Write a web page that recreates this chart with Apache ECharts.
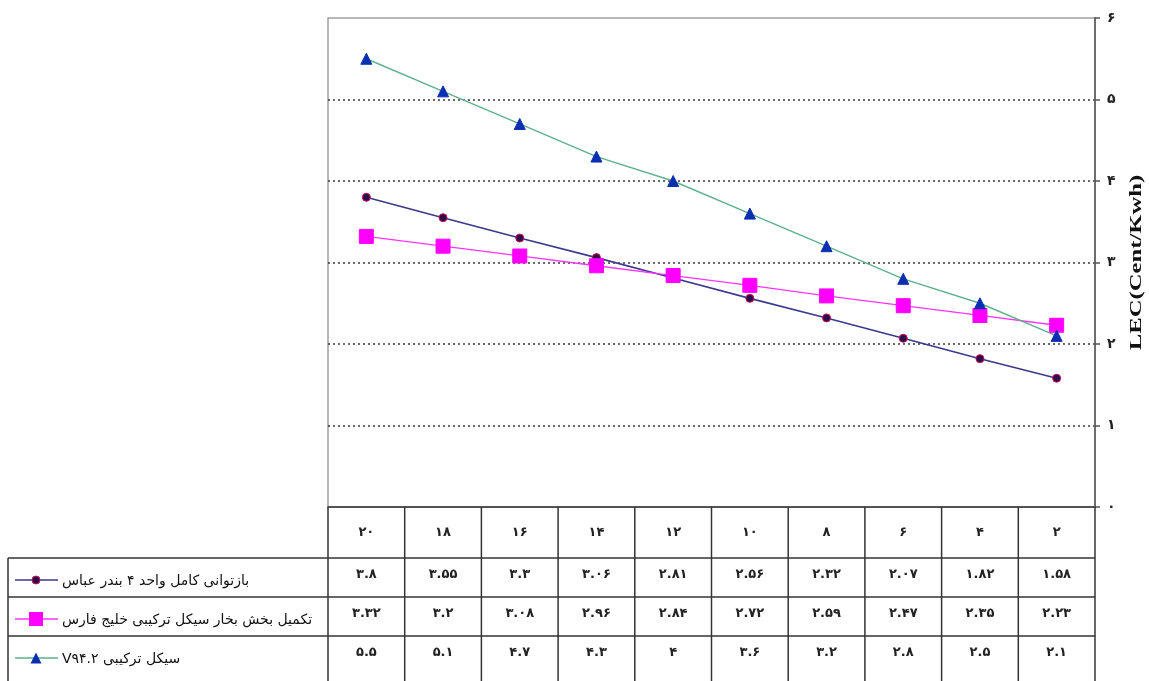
<!DOCTYPE html>
<html>
<head>
<meta charset="utf-8">
<title>LEC</title>
<script src="https://cdn.jsdelivr.net/npm/echarts@6/dist/echarts.min.js"></script>
<style>
  html, body { margin: 0; padding: 0; background: #ffffff; }
  #chart { width: 1149px; height: 681px; }
</style>
</head>
<body>
<div id="chart"></div>
<script>
// Plant age categories (years), right-to-left order as printed
const categories = [20, 18, 16, 14, 12, 10, 8, 6, 4, 2];

// Series names
const nameBandarAbbas = 'بازتوانی کامل واحد ۴ بندر عباس';
const nameKhalijFars = 'تکمیل بخش بخار سیکل ترکیبی خلیج فارس';
const nameV942 = 'سیکل ترکیبی V۹۴.۲';

// LEC values (Cent/Kwh)
const bandarAbbas = [3.8, 3.55, 3.3, 3.06, 2.81, 2.56, 2.32, 2.07, 1.82, 1.58];
const khalijFars = [3.32, 3.2, 3.08, 2.96, 2.84, 2.72, 2.59, 2.47, 2.35, 2.23];
const v942 = [5.5, 5.1, 4.7, 4.3, 4, 3.6, 3.2, 2.8, 2.5, 2.1];

// Value axis ticks
const yMin = 0, yMax = 6, yStep = 1;
const yTitle = 'LEC(Cent/Kwh)';

const FA_DIGITS = '۰۱۲۳۴۵۶۷۸۹';
const toFa = v => String(v).replace(/\d/g, d => FA_DIGITS[+d]);
// right-to-left embedding so mixed Latin/Persian text keeps RTL order
const rtl = s => '\u202B' + s + '\u202C';

const FA_FONT = '"DejaVu Sans", "Noto Sans", sans-serif';
const TABLE = '#333333';

const seriesDefs = [
  { name: nameBandarAbbas, data: bandarAbbas, symbol: 'circle', size: 8,
    line: '#3a3a8c', fill: '#2b0b4f', border: '#d0104a', lineWidth: 1.6 },
  { name: nameKhalijFars, data: khalijFars, symbol: 'rect', size: 14,
    line: '#ff33ff', fill: '#ff00ff', border: '#ff00ff', lineWidth: 1.3 },
  { name: nameV942, data: v942, symbol: 'triangle', size: 11,
    line: '#5fb08c', fill: '#0a2fb0', border: '#0a2fb0', lineWidth: 1.4 }
];

const chart = echarts.init(document.getElementById('chart'), null, { renderer: 'canvas' });

chart.setOption({
  animation: false,
  backgroundColor: '#ffffff',
  grid: {
    left: 328, right: 54, top: 18, bottom: 174,
    containLabel: false,
    outerBoundsMode: 'none',
    show: true, borderColor: '#a0a0a0', borderWidth: 1.5, backgroundColor: 'transparent'
  },
  xAxis: {
    type: 'category',
    data: categories.map(toFa),
    boundaryGap: true,
    axisLine: { show: true, lineStyle: { color: TABLE, width: 1.5 } },
    axisTick: { show: false },
    axisLabel: { margin: 19, fontSize: 13, color: '#222', fontFamily: FA_FONT, fontWeight: 'bold' },
    splitLine: { show: false }
  },
  yAxis: {
    type: 'value',
    position: 'right',
    min: yMin, max: yMax, interval: yStep,
    axisLine: { show: true, lineStyle: { color: '#666', width: 1.8 } },
    axisTick: { show: true, length: 5, lineStyle: { color: '#555', width: 1.5 } },
    axisLabel: { formatter: v => toFa(v), margin: 12, fontSize: 14, color: '#222', fontFamily: FA_FONT, fontWeight: 'bold' },
    splitLine: {
      show: true, showMinLine: false, showMaxLine: false,
      lineStyle: { type: [2, 3], color: '#3a3a3a', width: 1.6 }
    }
  },
  series: seriesDefs.map(s => ({
    type: 'line',
    name: s.name,
    data: s.data,
    symbol: s.symbol,
    symbolSize: s.size,
    showAllSymbol: true,
    lineStyle: { color: s.line, width: s.lineWidth },
    itemStyle: { color: s.fill, borderColor: s.border, borderWidth: 1 },
    z: 3
  }))
});

// Data table under the plot: header row comes from the category axis labels
function buildTable() {
  const xs = categories.map((_, i) => chart.convertToPixel({ xAxisIndex: 0 }, i));
  const band = xs[1] - xs[0];
  const y0 = chart.convertToPixel({ yAxisIndex: 0 }, yMin);
  const yTop = chart.convertToPixel({ yAxisIndex: 0 }, yMax);
  const left = xs[0] - band / 2;
  const right = xs[xs.length - 1] + band / 2;
  const legendLeft = 8;
  const rows = [y0, y0 + 51, y0 + 90, y0 + 129, y0 + 200];
  const els = [];
  const line = (x1, y1, x2, y2) => els.push({
    type: 'line', silent: true, z: 10,
    shape: { x1, y1, x2, y2 },
    style: { stroke: TABLE, lineWidth: 1.5 }
  });

  // vertical value-axis title, stretched along its reading direction
  els.push({
    type: 'text', silent: true, z: 11,
    x: right + 42, y: (y0 + yTop) / 2,
    rotation: Math.PI / 2, scaleX: 1.45, scaleY: 1,
    style: { text: yTitle, x: 0, y: 0, align: 'center', verticalAlign: 'middle',
             font: 'bold 17px "Liberation Serif", "Times New Roman", serif', fill: '#111' }
  });

  // horizontal rules
  for (let r = 1; r <= 3; r++) line(legendLeft, rows[r], right, rows[r]);
  // vertical rules
  for (let i = 0; i <= categories.length; i++) {
    const x = left + band * i;
    line(x, rows[0], x, rows[4]);
  }
  line(legendLeft, rows[1], legendLeft, rows[4]);

  seriesDefs.forEach((s, k) => {
    const top = rows[k + 1];
    const cy = top + 18;
    // value cells
    s.data.forEach((v, i) => {
      els.push({
        type: 'text', silent: true, z: 11,
        style: { text: toFa(v), x: xs[i], y: cy - 1, align: 'center', verticalAlign: 'middle',
                 font: 'bold 13px ' + FA_FONT, fill: '#222' }
      });
    });
    // legend key: line with marker
    const kx1 = 15, kx2 = 58, kc = 36, ky = cy + 4;
    els.push({ type: 'line', silent: true, z: 11, shape: { x1: kx1, y1: ky, x2: kx2, y2: ky },
               style: { stroke: s.line, lineWidth: s.lineWidth } });
    if (s.symbol === 'circle') {
      els.push({ type: 'circle', silent: true, z: 12, shape: { cx: kc, cy: ky, r: s.size / 2 },
                 style: { fill: s.fill, stroke: s.border, lineWidth: 1 } });
    } else if (s.symbol === 'rect') {
      els.push({ type: 'rect', silent: true, z: 12,
                 shape: { x: kc - s.size / 2, y: ky - s.size / 2, width: s.size, height: s.size },
                 style: { fill: s.fill } });
    } else {
      const h = s.size;
      els.push({ type: 'polygon', silent: true, z: 12,
                 shape: { points: [[kc, ky - h / 2], [kc + h / 2, ky + h / 2], [kc - h / 2, ky + h / 2]] },
                 style: { fill: s.fill } });
    }
    els.push({
      type: 'text', silent: true, z: 11,
      style: { text: rtl(s.name), x: 62, y: ky + 1, align: 'left', verticalAlign: 'middle',
               font: '14px ' + FA_FONT, fill: '#111' }
    });
  });

  chart.setOption({ graphic: els });
}

buildTable();
</script>
</body>
</html>
